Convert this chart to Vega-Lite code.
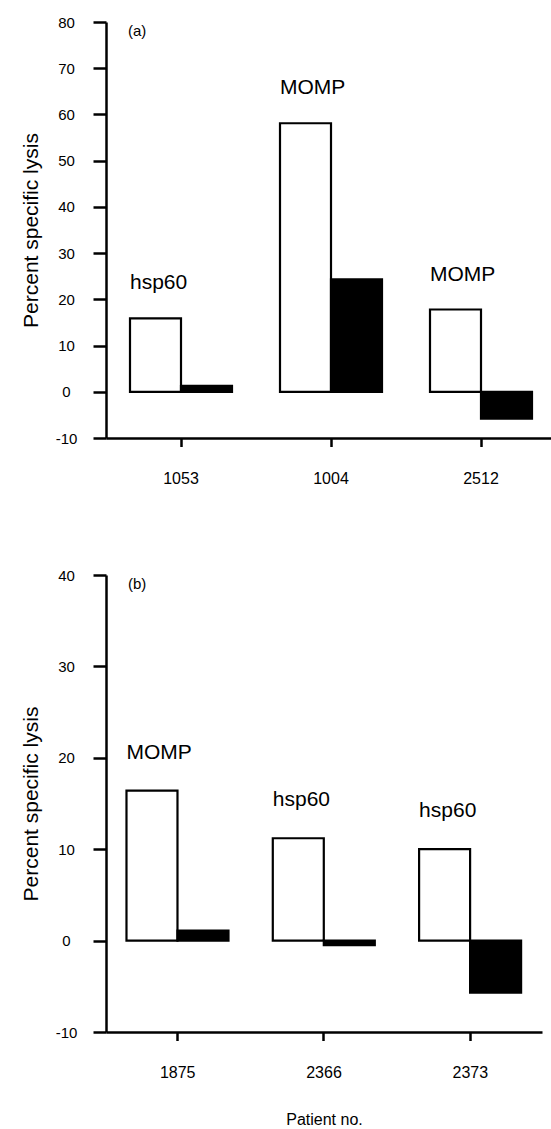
{
  "$schema": "https://vega.github.io/schema/vega-lite/v6.json",
  "background": "white",
  "autosize": {"type": "pad"},
  "padding": {"left": 20, "top": 15, "right": 0, "bottom": 0},
  "bounds": "flush",
  "spacing": 137,
  "config": {
    "font": "Liberation Sans",
    "view": {"stroke": null},
    "axis": {
      "grid": false,
      "domainColor": "black",
      "domainWidth": 2.5,
      "tickColor": "black",
      "tickWidth": 2.5,
      "labelColor": "black",
      "titleColor": "black",
      "labelFont": "Liberation Sans",
      "titleFont": "Liberation Sans",
      "titleFontWeight": "normal"
    },
    "axisX": {"labelAngle": 0, "labelFontSize": 16, "tickSize": 8.5, "labelPadding": 24, "titleFontSize": 16, "titlePadding": 31},
    "axisY": {"labelFontSize": 15, "tickSize": 13, "labelAlign": "center", "labelPadding": 27, "titleFontSize": 21, "titlePadding": 14, "labelExpr": "replace(datum.label, '\u2212', '-')"},
    "title": {"fontSize": 15, "fontWeight": "normal", "font": "Liberation Sans", "color": "black", "anchor": "start", "frame": "group"}
  },
  "datasets": {
    "a": [
      {"patient": "1053", "stim": "antigen", "lysis": 15.9, "antigen": "hsp60"},
      {"patient": "1053", "stim": "control", "lysis": 1.3, "antigen": ""},
      {"patient": "1004", "stim": "antigen", "lysis": 58.1, "antigen": "MOMP"},
      {"patient": "1004", "stim": "control", "lysis": 24.3, "antigen": ""},
      {"patient": "2512", "stim": "antigen", "lysis": 17.8, "antigen": "MOMP"},
      {"patient": "2512", "stim": "control", "lysis": -5.8, "antigen": ""}
    ],
    "b": [
      {"patient": "1875", "stim": "antigen", "lysis": 16.4, "antigen": "MOMP"},
      {"patient": "1875", "stim": "control", "lysis": 1.1, "antigen": ""},
      {"patient": "2366", "stim": "antigen", "lysis": 11.2, "antigen": "hsp60"},
      {"patient": "2366", "stim": "control", "lysis": -0.5, "antigen": ""},
      {"patient": "2373", "stim": "antigen", "lysis": 10.0, "antigen": "hsp60"},
      {"patient": "2373", "stim": "control", "lysis": -5.7, "antigen": ""}
    ]
  },
  "vconcat": [
    {
      "width": 450,
      "height": 416,
      "title": {"text": "(a)", "offset": -24, "dx": 22},
      "data": {"name": "a"},
      "encoding": {
        "x": {"field": "patient", "type": "nominal", "sort": ["1053", "1004", "2512"], "scale": {"paddingInner": 0.32, "paddingOuter": 0.16}, "axis": {"title": null}},
        "xOffset": {"field": "stim", "type": "nominal", "sort": ["antigen", "control"], "scale": {"paddingInner": 0, "paddingOuter": 0}},
        "y": {"field": "lysis", "type": "quantitative", "scale": {"domain": [-10, 80], "nice": false}, "axis": {"title": "Percent specific lysis", "values": [-10, 0, 10, 20, 30, 40, 50, 60, 70, 80]}}
      },
      "layer": [
        {
          "mark": {"type": "bar", "stroke": "black", "strokeWidth": 2.2},
          "encoding": {
            "fill": {"field": "stim", "type": "nominal", "scale": {"domain": ["antigen", "control"], "range": ["white", "black"]}, "legend": null}
          }
        },
        {
          "data": {"values": [{}]},
          "mark": {"type": "rule", "color": "black", "strokeWidth": 1.8},
          "encoding": {"x": null, "xOffset": null, "y": {"datum": 0}}
        },
        {
          "transform": [{"filter": "datum.stim === 'antigen'"}],
          "mark": {"type": "text", "align": "left", "baseline": "middle", "dx": -25.5, "dy": -35, "fontSize": 21, "color": "black"},
          "encoding": {"text": {"field": "antigen"}}
        }
      ]
    },
    {
      "width": 436,
      "height": 457,
      "title": {"text": "(b)", "offset": -24, "dx": 22},
      "data": {"name": "b"},
      "encoding": {
        "x": {"field": "patient", "type": "nominal", "sort": ["1875", "2366", "2373"], "scale": {"paddingInner": 0.3, "paddingOuter": 0.14}, "axis": {"title": "Patient no."}},
        "xOffset": {"field": "stim", "type": "nominal", "sort": ["antigen", "control"], "scale": {"paddingInner": 0, "paddingOuter": 0}},
        "y": {"field": "lysis", "type": "quantitative", "scale": {"domain": [-10, 40], "nice": false}, "axis": {"title": "Percent specific lysis", "values": [-10, 0, 10, 20, 30, 40]}}
      },
      "layer": [
        {
          "mark": {"type": "bar", "stroke": "black", "strokeWidth": 2.2},
          "encoding": {
            "fill": {"field": "stim", "type": "nominal", "scale": {"domain": ["antigen", "control"], "range": ["white", "black"]}, "legend": null}
          }
        },
        {
          "data": {"values": [{}]},
          "mark": {"type": "rule", "color": "black", "strokeWidth": 1.8},
          "encoding": {"x": null, "xOffset": null, "y": {"datum": 0}}
        },
        {
          "transform": [{"filter": "datum.stim === 'antigen'"}],
          "mark": {"type": "text", "align": "left", "baseline": "middle", "dx": -25.5, "dy": -38, "fontSize": 21, "color": "black"},
          "encoding": {"text": {"field": "antigen"}}
        }
      ]
    }
  ]
}
